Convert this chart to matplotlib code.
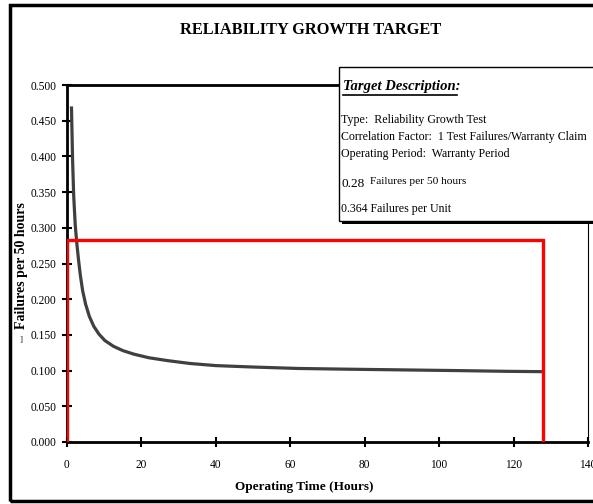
import matplotlib
matplotlib.use("Agg")
import matplotlib.pyplot as plt
from matplotlib.patches import Rectangle

plt.rcParams['font.family'] = ['Liberation Serif', 'DejaVu Serif']

# growth curve read along the operating time axis
hours = [1.2, 1.5, 1.8, 2.2, 2.6, 3.1, 3.6, 4.2, 5.0, 6.0, 7.2, 8.6, 10.2, 12.5,
         15, 18, 22, 27, 33, 40, 50, 62, 75, 90, 105, 118, 128]
failure_rate = [0.470, 0.395, 0.345, 0.305, 0.280, 0.255, 0.233, 0.212, 0.193, 0.176,
                0.162, 0.151, 0.142, 0.134, 0.128, 0.123, 0.118, 0.114, 0.110, 0.107,
                0.105, 0.103, 0.102, 0.101, 0.100, 0.099, 0.0985]

# target box: 0.28 failures per 50 hours over the warranty period
target_rate = 0.283
target_start = 0.0
target_end = 128

x_ticks = list(range(0, 141, 20))
y_ticks = [0.0, 0.05, 0.1, 0.15, 0.2, 0.25, 0.3, 0.35, 0.4, 0.45, 0.5]

desc_lines = ["Type:  Reliability Growth Test",
              "Correlation Factor:  1 Test Failures/Warranty Claim",
              "Operating Period:  Warranty Period"]

W, H = 593, 504


def fx(px):
    return px / W


def fy(py):
    return 1 - py / H


fig = plt.figure(figsize=(W / 100, H / 100), dpi=100)
ax = fig.add_axes([fx(67), fy(442), fx(588) - fx(67), fy(85) - fy(442)])

ax.plot(hours, failure_rate, color='#404040', lw=2.3, solid_capstyle='butt',
        solid_joinstyle='round', zorder=3)
ax.plot([target_start, target_start, target_end, target_end],
        [0, target_rate, target_rate, 0], color='#ff0000', lw=2.4, zorder=4,
        solid_joinstyle='miter')

ax.set_xlim(0, 140)
ax.set_ylim(0, 0.5)
ax.set_xticks(x_ticks)
ax.set_yticks(y_ticks)
ax.set_yticklabels(["%.3f" % v for v in y_ticks])
ax.tick_params(direction='inout', length=7, width=1.5, labelsize=8.3, colors='black')
ax.tick_params(axis='x', pad=9)
ax.tick_params(axis='y', pad=4)
for side in ['left', 'bottom', 'top']:
    ax.spines[side].set_linewidth(2)
ax.spines['right'].set_linewidth(0.8)

# outer frame
fig.patches.append(Rectangle((fx(10), fy(501)), 1.2, fy(5) - fy(501), transform=fig.transFigure,
                             fill=False, edgecolor='black', lw=2.5, zorder=0))

fig.text(fx(311), fy(30), "RELIABILITY GROWTH TARGET", ha='center', va='center',
         fontsize=11.8, fontweight='bold')
fig.text(fx(304), fy(487), "Operating Time (Hours)", ha='center', va='center',
         fontsize=9.5, fontweight='bold')
fig.text(fx(22), fy(266), "Failures per 50 hours", ha='center', va='center',
         rotation=90, fontsize=10, fontweight='bold')
fig.text(fx(21), fy(340), "]", ha='center', va='center', fontsize=6.5, color='#222222')

# description box with drop shadow
fig.patches.append(Rectangle((fx(342), fy(224)), 1.0, fy(70) - fy(224), transform=fig.transFigure,
                             facecolor='black', edgecolor='black', lw=0, zorder=5))
fig.patches.append(Rectangle((fx(339), fy(221)), 1.0, fy(67) - fy(221), transform=fig.transFigure,
                             facecolor='white', edgecolor='black', lw=1, zorder=6))

fig.text(fx(343), fy(86), "Target Description:", ha='left', va='center', fontsize=10.5,
         fontweight='bold', style='italic', zorder=7)
fig.lines.append(plt.Line2D([fx(343), fx(457)], [fy(95), fy(95)], transform=fig.transFigure,
                            color='black', lw=1.2, zorder=7))
for i, line in enumerate(desc_lines):
    fig.text(fx(341), fy(120 + 17 * i), line, ha='left', va='center', fontsize=8.6, zorder=7)
fig.text(fx(341), fy(184), "0.28", ha='left', va='center', fontsize=9.5, zorder=7)
fig.text(fx(370), fy(182), "Failures per 50 hours", ha='left', va='center', fontsize=8.2, zorder=7)
fig.text(fx(341), fy(209), "0.364 Failures per Unit", ha='left', va='center', fontsize=8.6, zorder=7)

fig.savefig("out.png", dpi=100)
